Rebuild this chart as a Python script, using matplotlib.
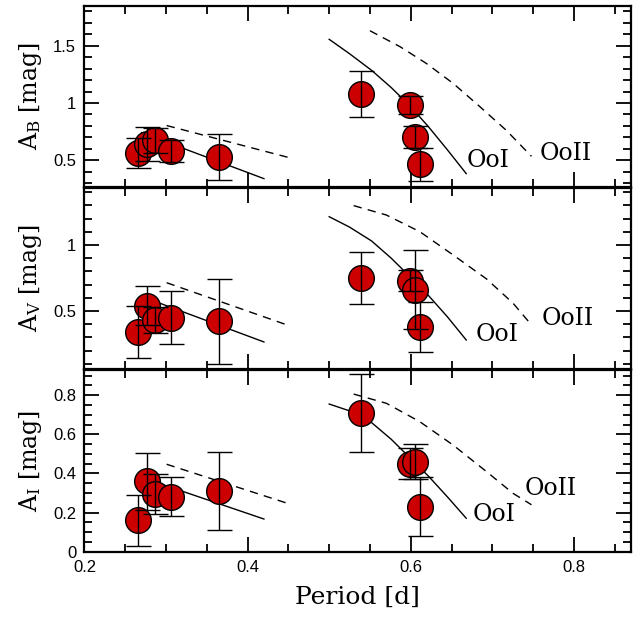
import matplotlib

matplotlib.use("Agg")
import matplotlib.pyplot as plt
from matplotlib.ticker import FuncFormatter, MultipleLocator

# Stars: period [d], amplitudes and errors in B, V, I [mag]
period = [0.265, 0.277, 0.287, 0.306, 0.365, 0.539, 0.599, 0.605, 0.611]
amp_b = [0.56, 0.64, 0.675, 0.58, 0.53, 1.08, 0.985, 0.705, 0.465]
err_b = [0.13, 0.15, 0.11, 0.10, 0.20, 0.20, 0.08, 0.095, 0.145]
amp_v = [0.34, 0.54, 0.43, 0.45, 0.42, 0.75, 0.73, 0.66, 0.38]
err_v = [0.20, 0.15, 0.10, 0.20, 0.32, 0.20, 0.08, 0.30, 0.19]
amp_i = [0.16, 0.36, 0.295, 0.28, 0.31, 0.71, 0.45, 0.46, 0.23]
err_i = [0.13, 0.145, 0.10, 0.10, 0.20, 0.20, 0.08, 0.09, 0.15]

# Oosterhoff loci, first-overtone (RRc) part
ooi_c_period = [0.27, 0.42]
ooi_c_b = [0.74, 0.339]
ooi_c_v = [0.61, 0.265]
ooi_c_i = [0.38, 0.167]
ooii_c_period = [0.3007, 0.4506]
ooii_c_b = [0.803, 0.523]
ooii_c_v = [0.714, 0.389]
ooii_c_i = [0.447, 0.245]

# Oosterhoff loci, fundamental (RRab) part
ooi_ab_period = [0.500, 0.525, 0.552, 0.576, 0.599, 0.622, 0.645, 0.668]
ooi_ab_b = [1.556, 1.43, 1.285, 1.135, 0.975, 0.79, 0.59, 0.383]
ooi_ab_v = [1.214, 1.135, 1.03, 0.90, 0.76, 0.615, 0.455, 0.28]
ooi_ab_i = [0.755, 0.72, 0.66, 0.575, 0.48, 0.385, 0.28, 0.171]
ooii_ab_period_b = [0.550, 0.587, 0.619, 0.652, 0.685, 0.717, 0.748]
ooii_ab_b = [1.631, 1.491, 1.346, 1.171, 0.966, 0.762, 0.534]
ooii_ab_period = [0.530, 0.570, 0.611, 0.652, 0.693, 0.7255, 0.748]
ooii_ab_v = [1.298, 1.227, 1.101, 0.924, 0.742, 0.558, 0.394]
ooii_ab_i = [0.806, 0.759, 0.665, 0.545, 0.409, 0.298, 0.24]

SERIF = "DejaVu Serif"
SANS = "Liberation Sans"
RED = "#cc0000"

plt.rcParams["mathtext.fontset"] = "dejavuserif"

fig = plt.figure(figsize=(6.43, 6.2), dpi=100)
left, width = 0.1314, 0.8499
boxes = [(0.6984, 0.2919), (0.4044, 0.2929), (0.1102, 0.2930)]
axes = [fig.add_axes([left, b, width, h]) for b, h in boxes]


def draw_panel(ax, amp, err, c1, c2, ab1, ab2_p, ab2, ylim, major, minor, band, lab1, lab2):
    ax.plot(ooi_c_period, c1, color="k", lw=1.0, zorder=2)
    ax.plot(ooii_c_period, c2, color="k", lw=1.0, ls=(0, (6, 4.5)), zorder=2)
    ax.plot(ooi_ab_period, ab1, color="k", lw=1.0, zorder=2)
    ax.plot(ab2_p, ab2, color="k", lw=1.0, ls=(0, (6, 4.5)), zorder=2)
    for p, a in zip(period, amp):
        ax.plot(p, a, "o", ms=18.5, mfc=RED, mec="k", mew=1.0, zorder=3)
    ax.errorbar(period, amp, yerr=err, fmt="none", ecolor="k", elinewidth=1.0,
                capsize=9, capthick=1.0, zorder=4)
    ax.text(lab1[0], lab1[1], "OoI", family=SERIF, fontsize=17, va="center", ha="left")
    ax.text(lab2[0], lab2[1], "OoII", family=SERIF, fontsize=17, va="center", ha="left")
    ax.set_xlim(0.2, 0.87)
    ax.set_ylim(*ylim)
    ax.xaxis.set_major_locator(MultipleLocator(0.2))
    ax.xaxis.set_minor_locator(MultipleLocator(0.05))
    ax.yaxis.set_major_locator(MultipleLocator(major))
    ax.yaxis.set_minor_locator(MultipleLocator(minor))
    ax.yaxis.set_major_formatter(FuncFormatter(lambda v, _: f"{v:g}"))
    ax.xaxis.set_major_formatter(FuncFormatter(lambda v, _: f"{v:.1f}"))
    ax.tick_params(which="both", direction="in", top=True, right=True, width=1.3)
    ax.tick_params(which="major", length=11, labelsize=12, pad=6)
    ax.tick_params(which="minor", length=5.5)
    for lab in ax.get_xticklabels() + ax.get_yticklabels():
        lab.set_family(SANS)
    for s in ax.spines.values():
        s.set_linewidth(1.6)
    ax.set_ylabel(r"A$_\mathrm{" + band + r"}$ [mag]", family=SERIF, fontsize=17)
    ax.yaxis.set_label_coords(-0.075, 0.5)


draw_panel(axes[0], amp_b, err_b, ooi_c_b, ooii_c_b, ooi_ab_b, ooii_ab_period_b, ooii_ab_b,
           (0.266, 1.847), 0.5, 0.1, "B", (0.668, 0.50), (0.758, 0.56))
draw_panel(axes[1], amp_v, err_v, ooi_c_v, ooii_c_v, ooi_ab_v, ooii_ab_period, ooii_ab_v,
           (0.058, 1.434), 0.5, 0.1, "V", (0.680, 0.318), (0.761, 0.445))
draw_panel(axes[2], amp_i, err_i, ooi_c_i, ooii_c_i, ooi_ab_i, ooii_ab_period, ooii_ab_i,
           (0.0, 0.929), 0.2, 0.05, "I", (0.676, 0.188), (0.740, 0.325))

for ax in axes[:2]:
    ax.tick_params(labelbottom=False)
axes[2].set_xlabel("Period [d]", family=SERIF, fontsize=18, labelpad=8)

fig.savefig("out.png", dpi=100)
